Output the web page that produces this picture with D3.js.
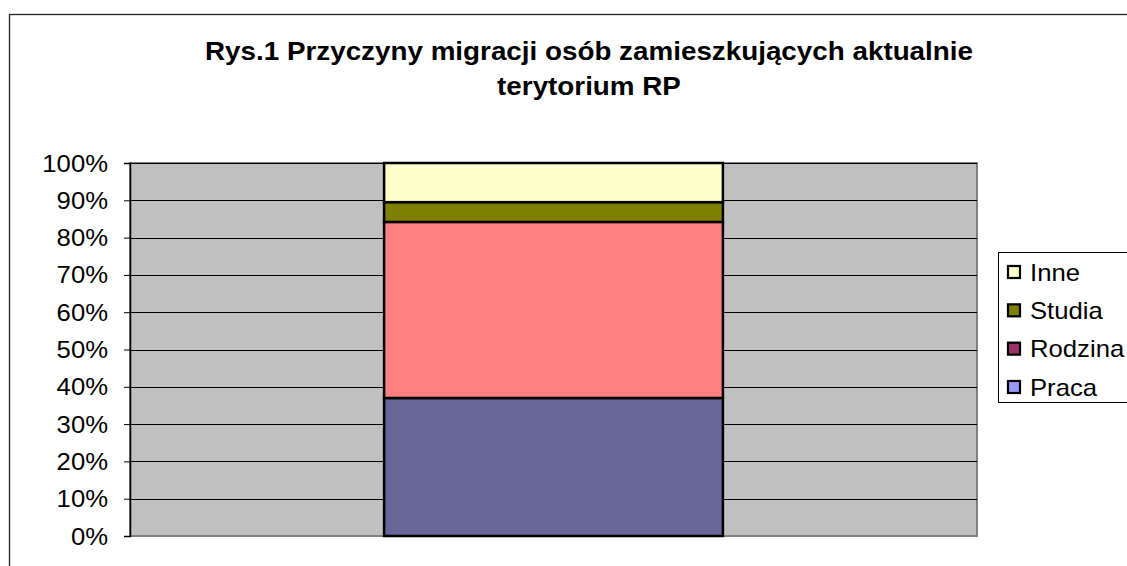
<!DOCTYPE html>
<html>
<head>
<meta charset="utf-8">
<script src="https://cdn.jsdelivr.net/npm/d3@7"></script>
<style>
  body { margin: 0; background: #fff; }
  svg text { font-family: "Liberation Sans", Arial, sans-serif; fill: #000; }
</style>
</head>
<body>
<div id="chart"></div>
<script>
// share of each reason (in %), stacked bottom -> top
var series = ['Praca', 'Rodzina', 'Studia', 'Inne']
var values = [37.0, 47.2, 5.3, 10.5]
var barColors = ['#666699', '#FF8080', '#808000', '#FFFFCC']
// legend swatches use the default palette, not the bar fills
var legendColors = ['#9999FF', '#993366', '#808000', '#FFFFCC']
var yTicks = [0, 10, 20, 30, 40, 50, 60, 70, 80, 90, 100]
var titleLines = ['Rys.1 Przyczyny migracji osób zamieszkujących aktualnie', 'terytorium RP']

var W = 1127, H = 566
var sx = 1.07 // the picture is a bit stretched horizontally

var svg = d3.select('#chart').append('svg').attr('width', W).attr('height', H)

// outer chart frame (cut by the window on the right and bottom)
svg.append('rect')
  .attr('x', 9.5).attr('y', 14.5).attr('width', W + 20).attr('height', H + 20)
  .attr('fill', '#fff').attr('stroke', '#222').attr('stroke-width', 1.3)

titleLines.forEach(function(t, i) {
  svg.append('text')
    .attr('transform', 'translate(589,' + (60 + i * 35) + ') scale(' + sx + ',1)')
    .attr('text-anchor', 'middle')
    .style('font-size', '26px').style('font-weight', 'bold')
    .text(t)
})

var plot = {left: 130, right: 977, top: 163, bottom: 536}

var x = d3.scaleBand().domain(['a']).range([plot.left, plot.right]).paddingInner(0).paddingOuter(0.75)
var y = d3.scaleLinear().domain([0, 100]).range([plot.bottom, plot.top])

// plot area
svg.append('rect')
  .attr('x', plot.left).attr('y', plot.top)
  .attr('width', plot.right - plot.left).attr('height', plot.bottom - plot.top)
  .attr('fill', '#C0C0C0').attr('stroke', '#808080').attr('stroke-width', 2)

// gridlines
svg.append('g').selectAll('line').data(yTicks.filter(function(d) { return d > 0 })).join('line')
  .attr('x1', plot.left).attr('x2', plot.right)
  .attr('y1', function(d) { return Math.round(y(d)) + 0.5 })
  .attr('y2', function(d) { return Math.round(y(d)) + 0.5 })
  .attr('stroke', '#000').attr('stroke-width', 1)

// stacked bar
var stack = []
var acc = 0
values.forEach(function(v, i) {
  stack.push({name: series[i], y0: acc, y1: acc + v, color: barColors[i]})
  acc += v
})

svg.append('g').selectAll('rect').data(stack).join('rect')
  .attr('x', x('a')).attr('width', x.bandwidth())
  .attr('y', function(d) { return y(d.y1) })
  .attr('height', function(d) { return y(d.y0) - y(d.y1) })
  .attr('fill', function(d) { return d.color })
  .attr('stroke', '#000').attr('stroke-width', 2.5)

// y axis
var yAxis = d3.axisLeft(y).tickValues(yTicks).tickSize(6).tickPadding(0).tickFormat(function(d) { return d + '%' })
var ax = svg.append('g').attr('transform', 'translate(' + plot.left + ',0)').call(yAxis)
ax.select('.domain').attr('stroke', '#000').attr('stroke-width', 1.5)
ax.selectAll('.tick line').attr('stroke', '#000')
ax.selectAll('.tick text')
  .attr('x', null).attr('dy', null)
  .attr('transform', 'translate(-22,8) scale(' + sx + ',1)')
  .style('font-size', '24px')

// legend
var lg = svg.append('g')
lg.append('rect')
  .attr('x', 998.5).attr('y', 252.5).attr('width', 160).attr('height', 150)
  .attr('fill', '#fff').attr('stroke', '#000').attr('stroke-width', 1)

var legendItems = series.map(function(s, i) { return {name: s, color: legendColors[i]} }).reverse()
var ly = d3.scalePoint().domain(legendItems.map(function(d) { return d.name })).range([272, 387])

var li = lg.selectAll('g.item').data(legendItems).join('g').attr('class', 'item')
  .attr('transform', function(d) { return 'translate(0,' + ly(d.name) + ')' })
li.append('rect')
  .attr('x', 1008).attr('y', -6).attr('width', 12).attr('height', 12)
  .attr('fill', function(d) { return d.color })
  .attr('stroke', '#000').attr('stroke-width', 2.2)
li.append('text')
  .attr('transform', 'translate(1030,8.5) scale(' + sx + ',1)')
  .style('font-size', '24px')
  .text(function(d) { return d.name })
</script>
</body>
</html>
